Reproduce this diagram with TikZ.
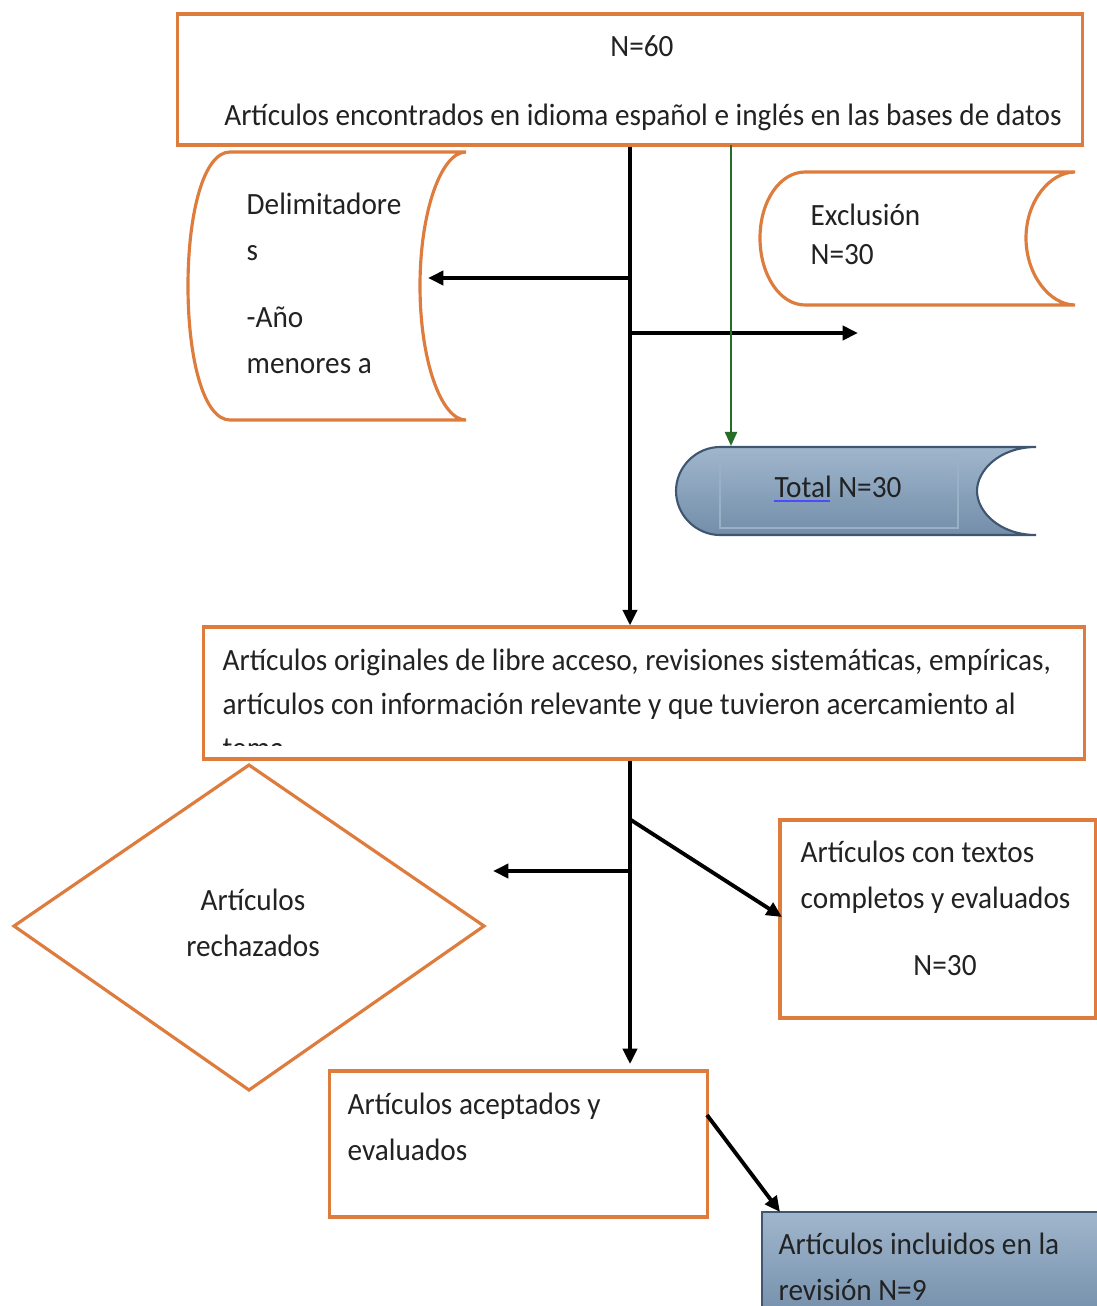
\documentclass[tikz,border=0pt]{standalone}
\usepackage{fontspec}
\setmainfont{Carlito}[FakeStretch=0.945]
\usepackage{tikz}
\usetikzlibrary{arrows.meta, positioning, calc}
\definecolor{boxorange}{RGB}{222,124,62}
\definecolor{flowgreen}{RGB}{38,110,40}
\definecolor{steeltop}{RGB}{160,182,204}
\definecolor{steelbot}{RGB}{115,142,170}
\definecolor{steeledge}{RGB}{62,86,112}
\definecolor{inktext}{RGB}{34,34,34}

\tikzset{
  orangebox/.style={draw=boxorange, line width=0.9pt, rectangle, inner sep=0pt},
  flowtext/.style={text=inktext, inner sep=0pt, align=left, font=\fontsize{8.8}{13}\selectfont},
  flowarrow/.style={-{Triangle[length=4.4pt,width=4pt]}, line width=1.1pt},
}

\begin{document}
\begin{tikzpicture}[x=0.01cm, y=-0.01cm]
    \clip (0,0) rectangle (1097,1306);
    \fill[white] (0,0) rectangle (1097,1306);

    % Search
    \node[orangebox, minimum width=9.04cm, minimum height=1.31cm] (top) at (630,79.5) {};
    \node[flowtext] (nsixty) at (642,46) {N=60};
    \node[flowtext, anchor=base] (found) at (643,125) {Artículos encontrados en idioma español e inglés en las bases de datos};

    % Delimiters
    \draw[draw=boxorange, line width=0.9pt] (230,152) -- (466,152)
        .. controls (441,152) and (420,212) .. (420,286)
        .. controls (420,360) and (441,420) .. (466,420) -- (230,420)
        .. controls (204,420) and (188,360) .. (188,286)
        .. controls (188,212) and (204,152) .. (230,152) -- cycle;
    \node[flowtext, anchor=base west] (delim) at (246,373) {Delimitadore\\s\\[6pt]-Año\\menores a};

    % Exclusion
    \draw[draw=boxorange, line width=0.9pt] (805,172) -- (1075,172)
        .. controls (1050,172) and (1026,201) .. (1026,238)
        .. controls (1026,275) and (1050,305) .. (1075,305) -- (805,305)
        .. controls (780,305) and (760,275) .. (760,238)
        .. controls (760,201) and (780,172) .. (805,172) -- cycle;
    \node[flowtext, anchor=base west] (excl) at (810,264) {Exclusión\\[-2pt]N=30};

    % Total
    \shade[top color=steeltop, bottom color=steelbot, draw=steeledge, line width=0.6pt]
        (720,447) -- (1036,447)
        .. controls (1000,447) and (977,470) .. (977,491)
        .. controls (977,512) and (1000,535) .. (1036,535) -- (720,535)
        .. controls (696,535) and (676,515) .. (676,491)
        .. controls (676,467) and (696,447) .. (720,447) -- cycle;
    \draw[steeltop!85!steelbot, line width=0.3pt] (720,455) rectangle (958,528);
    \node[flowtext, anchor=base] (total) at (838,497) {Total N=30};
    \draw[blue!70, line width=0.5pt] ($(total.base west)+(0,4)$) -- ++(56,0);

    % Criteria
    \node[orangebox, minimum width=8.8cm, minimum height=1.32cm] (crit) at (644,693) {};
    \begin{scope}
        \clip (204,627) rectangle (1084,745);
        \node[flowtext, anchor=base west] (crittxt) at (222,758) {Artículos originales de libre acceso, revisiones sistemáticas, empíricas,\\[-0.6pt]artículos con información relevante y que tuvieron acercamiento al\\[-0.6pt]tema};
    \end{scope}

    % Rejected
    \draw[draw=boxorange, line width=0.9pt] (14,926) -- (249,765) -- (484,926) -- (249,1090) -- cycle;
    \node[flowtext, align=center, anchor=base] (rejected) at (253,956) {Artículos\\rechazados};

    % Full texts
    \node[orangebox, minimum width=3.15cm, minimum height=1.98cm] (textos) at (937.5,919) {};
    \node[flowtext, anchor=base west] (textostxt) at (800,908) {Artículos con textos\\completos y evaluados};
    \node[flowtext] (nthirty) at (945,966) {N=30};

    % Accepted
    \node[orangebox, minimum width=3.77cm, minimum height=1.46cm] (accepted) at (518.5,1144) {};
    \node[flowtext, anchor=base west] (acceptedtxt) at (347,1160) {Artículos aceptados y\\evaluados};

    % Included
    \node[rectangle, draw=steeledge, line width=0.6pt, top color=steeltop, bottom color=steelbot,
          minimum width=3.43cm, minimum height=1.08cm] (included) at (933.5,1266) {};
    \node[flowtext, anchor=base west] (includedtxt) at (778,1300) {Artículos incluidos en la\\revisión N=9};

    % Connectors
    \coordinate (jdelim) at (631,278);
    \coordinate (delimtip) at (428,278);
    \coordinate (jexcl) at (631,333);
    \coordinate (excltip) at (858,333);
    \coordinate (gstart) at (731,145);
    \coordinate (totaltop) at (731,446);
    \coordinate (jrej) at (631,871);
    \coordinate (rejtip) at (493,871);
    \coordinate (jtext) at (631,820);
    \coordinate (texttip) at (782,917);
    \coordinate (accout) at (707,1115);
    \coordinate (inctip) at (780,1212);

    \draw[flowarrow] (top.south) -- (top.south |- crit.north);
    \draw[flowarrow] (jdelim) -- (delimtip);
    \draw[flowarrow] (jexcl) -- (excltip);
    \draw[-{Triangle[length=4pt,width=3.4pt]}, flowgreen, line width=0.7pt] (gstart) -- (totaltop);
    \draw[flowarrow, shorten >=1.5pt] (crit.south -| top.south) -- (accepted.north -| top.south);
    \draw[flowarrow] (jrej) -- (rejtip);
    \draw[flowarrow] (jtext) -- (texttip);
    \draw[flowarrow] (accout) -- (inctip);
\end{tikzpicture}
\end{document}
